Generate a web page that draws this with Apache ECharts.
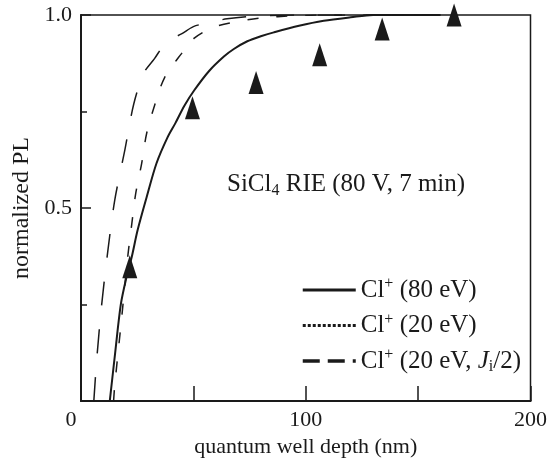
<!DOCTYPE html>
<html><head><meta charset="utf-8">
<script src="https://cdn.jsdelivr.net/npm/echarts@6/dist/echarts.min.js"></script>
<style>html,body{margin:0;padding:0;background:#fff}#c{width:550px;height:463px}</style>
</head><body><div id="c"></div>
<script>
// Cl+ (80 eV) — solid curve
const cl80X = [12.8, 15.2, 17.7, 20.2, 22.6, 25.2, 29.2, 33.6, 38.5, 42, 46, 50.4, 57, 63.7, 68, 74, 80, 85.8, 97, 108, 120, 130, 160];
const cl80Y = [0, 0.125, 0.25, 0.32, 0.374, 0.443, 0.528, 0.616, 0.683, 0.72, 0.765, 0.805, 0.855, 0.893, 0.912, 0.932, 0.945, 0.955, 0.972, 0.985, 0.994, 1.0, 1.0];
// Cl+ (20 eV) — short dashes
const cl20X = [14.5, 15, 18.1, 20.8, 22.6, 24.3, 27, 29.2, 32.7, 37.2, 44.7, 50.4, 58, 66.8, 80, 95, 110, 160];
const cl20Y = [0, 0.04, 0.216, 0.374, 0.459, 0.536, 0.616, 0.693, 0.765, 0.838, 0.9, 0.94, 0.966, 0.98, 0.992, 0.998, 1.0, 1.0];
// Cl+ (20 eV, Ji/2) — long dashes
const clHalfX = [5.7, 7, 9.2, 11.9, 15, 19.5, 23.5, 28, 32.7, 38, 44.7, 50, 56, 65, 80, 100, 160];
const clHalfY = [0, 0.108, 0.25, 0.387, 0.52, 0.65, 0.77, 0.85, 0.887, 0.93, 0.951, 0.97, 0.979, 0.99, 0.998, 1.0, 1.0];
// measured points (triangles)
const measX = [21.7, 49.6, 77.9, 106.2, 134, 166];
const measY = [0.348, 0.76, 0.825, 0.897, 0.964, 1.0];

const seriesNames = ['Cl+ (80 eV)', 'Cl+ (20 eV)', 'Cl+ (20 eV, Ji/2)'];
const legendRich = {
  'Cl+ (80 eV)': '{t|Cl}{sup|+}{t| (80 eV)}',
  'Cl+ (20 eV)': '{t|Cl}{sup|+}{t| (20 eV)}',
  'Cl+ (20 eV, Ji/2)': '{t|Cl}{sup|+}{t| (20 eV, }{it|J}{sub|i}{t|/2)}'
};
const xTickLabels = {0: '{z|0}', 100: '100', 200: '200'};
const yTickLabels = {0.5: '0.5', 1: '1.0'};

const zip = (xs, ys) => xs.map((x, i) => [x, ys[i]]);
const FONT = 'Liberation Serif';
const INK = '#1a1a1a';
const CLEAR = 'rgba(0,0,0,0)';

const chart = echarts.init(document.getElementById('c'), null, {renderer: 'canvas'});
chart.setOption({
  animation: false,
  backgroundColor: '#fff',
  grid: {left: 81, right: 16, top: 15, bottom: 61, show: true, borderColor: INK, borderWidth: 1.5},
  xAxis: {
    type: 'value', min: 0, max: 200, interval: 50,
    name: 'quantum well depth (nm)', nameLocation: 'middle', nameGap: 34,
    nameTextStyle: {fontFamily: FONT, fontSize: 22, color: INK},
    axisLine: {lineStyle: {color: INK, width: 2}},
    axisTick: {inside: true, length: 15, lineStyle: {color: INK, width: 1.5}},
    splitLine: {show: false},
    axisLabel: {
      margin: 8, fontFamily: FONT, fontSize: 22, color: INK,
      formatter: v => xTickLabels[v] || '',
      rich: {z: {fontFamily: FONT, fontSize: 22, color: INK, padding: [0, 20, 0, 0]}}
    }
  },
  yAxis: {
    type: 'value', min: 0, max: 1, interval: 0.5,
    name: 'normalized PL', nameLocation: 'middle', nameGap: 45,
    nameTextStyle: {fontFamily: FONT, fontSize: 24, color: INK},
    axisLine: {show: true, lineStyle: {color: INK, width: 2}},
    axisTick: {inside: true, length: 10, lineStyle: {color: INK, width: 1.5}},
    minorTick: {show: true, splitNumber: 2, length: 6, lineStyle: {color: INK, width: 1.5}},
    splitLine: {show: false},
    axisLabel: {margin: 9, fontFamily: FONT, fontSize: 22, color: INK,
      formatter: v => yTickLabels[v] || ''}
  },
  legend: {
    orient: 'vertical', left: 296, top: 271, itemWidth: 53, itemHeight: 14, itemGap: 9,
    data: [
      {name: seriesNames[0], lineStyle: {type: 'solid', width: 3, color: INK}, itemStyle: {color: CLEAR, borderColor: CLEAR}},
      {name: seriesNames[1], lineStyle: {type: [3, 2], width: 3, color: INK}, itemStyle: {color: CLEAR, borderColor: CLEAR}},
      {name: seriesNames[2], lineStyle: {type: [17, 8], width: 3.5, color: INK}, itemStyle: {color: CLEAR, borderColor: CLEAR}}
    ],
    formatter: n => legendRich[n],
    textStyle: {
      fontFamily: FONT, fontSize: 25, color: INK,
      rich: {
        t: {fontFamily: FONT, fontSize: 25, color: INK, lineHeight: 28},
        it: {fontFamily: FONT, fontSize: 25, fontStyle: 'italic', color: INK, lineHeight: 28},
        sup: {fontFamily: FONT, fontSize: 16, color: INK, lineHeight: 16, verticalAlign: 'top'},
        sub: {fontFamily: FONT, fontSize: 16, color: INK, lineHeight: 13, verticalAlign: 'bottom'}
      }
    }
  },
  graphic: [{
    type: 'text', left: 227, top: 172,
    style: {
      text: '{t|SiCl}{sub|4}{t| RIE (80 V, 7 min)}',
      rich: {
        t: {fontFamily: FONT, fontSize: 25, fill: INK, lineHeight: 28},
        sub: {fontFamily: FONT, fontSize: 16, fill: INK, lineHeight: 13, verticalAlign: 'bottom'}
      }
    }
  }],
  series: [
    {name: seriesNames[0], type: 'line', data: zip(cl80X, cl80Y), symbol: 'none', smooth: 0.3,
      lineStyle: {color: INK, width: 2, type: 'solid'}, itemStyle: {color: INK}},
    {name: seriesNames[1], type: 'line', data: zip(cl20X, cl20Y), symbol: 'none', smooth: 0.3,
      lineStyle: {color: INK, width: 1.5, type: [11, 18]}, itemStyle: {color: INK}},
    {name: seriesNames[2], type: 'line', data: zip(clHalfX, clHalfY), symbol: 'none', smooth: 0.3,
      lineStyle: {color: INK, width: 1.5, type: [24, 24]}, itemStyle: {color: INK}},
    {name: 'measured', type: 'scatter', data: zip(measX, measY), symbol: 'triangle',
      symbolSize: [15, 23], clip: false, z: 5, itemStyle: {color: INK, opacity: 1}}
  ]
});
</script>
</body></html>
